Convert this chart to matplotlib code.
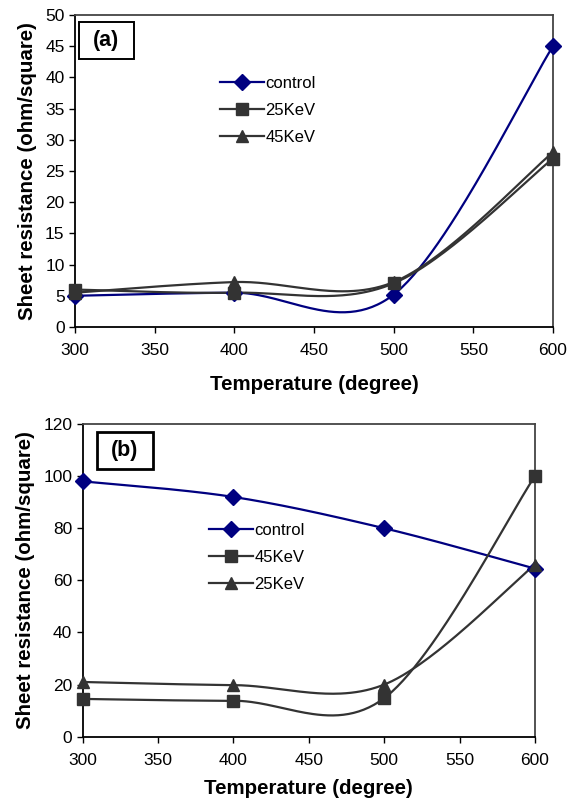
import numpy as np
import matplotlib
matplotlib.use("Agg")
import matplotlib.pyplot as plt
from matplotlib.lines import Line2D
from matplotlib.patches import Rectangle

plt.rcParams['font.family'] = ['Liberation Sans', 'DejaVu Sans']

temps = [300, 400, 500, 600]

# Panel (a)
a_control = [5.0, 5.5, 5.2, 45.0]
a_25kev = [6.0, 5.5, 7.0, 27.0]
a_45kev = [5.5, 7.2, 7.2, 28.0]

# Panel (b)
b_control = [98.0, 92.0, 80.0, 64.5]
b_45kev = [14.5, 13.8, 14.8, 100.0]
b_25kev = [21.0, 19.8, 20.0, 66.0]

xticks = [300, 350, 400, 450, 500, 550, 600]

NAVY = '#000080'
GRAY = '#333333'


def smooth(x, y, n=60):
    """Excel-like smoothed line (Catmull-Rom to cubic Bezier)."""
    P = np.column_stack([x, y]).astype(float)
    m = len(P)
    out = []
    for i in range(m - 1):
        p0 = P[i - 1] if i > 0 else P[i]
        p1 = P[i]
        p2 = P[i + 1]
        p3 = P[i + 2] if i + 2 < m else P[i + 1]
        c1 = p1 + (p2 - p0) / 6.0
        c2 = p2 - (p3 - p1) / 6.0
        t = np.linspace(0, 1, n)[:, None]
        seg = ((1 - t) ** 3) * p1 + 3 * ((1 - t) ** 2) * t * c1 + 3 * (1 - t) * t ** 2 * c2 + t ** 3 * p2
        out.append(seg if i == 0 else seg[1:])
    out = np.vstack(out)
    return out[:, 0], out[:, 1]


fig = plt.figure(figsize=(5.78, 8.0), dpi=100)

ax1 = fig.add_axes([0.1298, 0.59125, 0.827, 0.39])
ax2 = fig.add_axes([0.1431, 0.07913, 0.7825, 0.39088])

MS = {'D': 8, 's': 8.5, '^': 9}


def draw(ax, series, ylim, yticks, label, legend_anchor, box, box_lw, xlabelpad):
    handles = []
    for vals, color, marker, name in series:
        sx, sy = smooth(temps, vals)
        ax.plot(sx, sy, color=color, lw=1.6, zorder=2, clip_on=False)
        ax.plot(temps, vals, linestyle='none', marker=marker, color=color,
                markersize=MS[marker], zorder=3, clip_on=False)
        handles.append(Line2D([0], [0], color=color, lw=1.6, marker=marker,
                              markersize=MS[marker], label=name))
    ax.set_xlim(300, 600)
    ax.set_ylim(*ylim)
    ax.set_xticks(xticks)
    ax.set_yticks(yticks)
    ax.tick_params(axis='both', direction='out', length=4.5, width=1,
                   labelsize=12.5, colors='black')
    ax.tick_params(axis='x', pad=7)
    ax.tick_params(axis='y', pad=3)
    for s in ['top', 'right']:
        ax.spines[s].set_color('#444444')
        ax.spines[s].set_linewidth(1.3)
    for s in ['left', 'bottom']:
        ax.spines[s].set_color('black')
        ax.spines[s].set_linewidth(1.3)
    ax.set_xlabel('Temperature (degree)', fontsize=14.8, fontweight='bold', labelpad=xlabelpad)
    ax.set_ylabel('Sheet resistance (ohm/square)', fontsize=14.8, fontweight='bold', labelpad=6)
    ax.legend(handles=handles, loc='upper left', bbox_to_anchor=legend_anchor,
              frameon=False, fontsize=12, handlelength=2.6,
              handletextpad=0.1, labelspacing=0.72, borderaxespad=0)
    x0, x1, y0, y1 = box
    ax.add_patch(Rectangle((x0, y0), x1 - x0, y1 - y0, transform=ax.transAxes,
                           fc='white', ec='black', lw=box_lw, zorder=5, clip_on=False))
    ax.text((x0 + x1) / 2, (y0 + y1) / 2, label, transform=ax.transAxes,
            fontsize=15.5, fontweight='bold', ha='center', va='center', zorder=6)


draw(ax1,
     [(a_control, NAVY, 'D', 'control'),
      (a_25kev, GRAY, 's', '25KeV'),
      (a_45kev, GRAY, '^', '45KeV')],
     (0, 50), list(range(0, 51, 5)), '(a)', (0.29, 0.825),
     (0.0075, 0.1234, 0.858, 0.9785), 1.4, 12)

draw(ax2,
     [(b_control, NAVY, 'D', 'control'),
      (b_45kev, GRAY, 's', '45KeV'),
      (b_25kev, GRAY, '^', '25KeV')],
     (0, 120), list(range(0, 121, 20)), '(b)', (0.265, 0.705),
     (0.031, 0.1554, 0.855, 0.9754), 2.0, 8)

fig.savefig('out.png', dpi=100)
